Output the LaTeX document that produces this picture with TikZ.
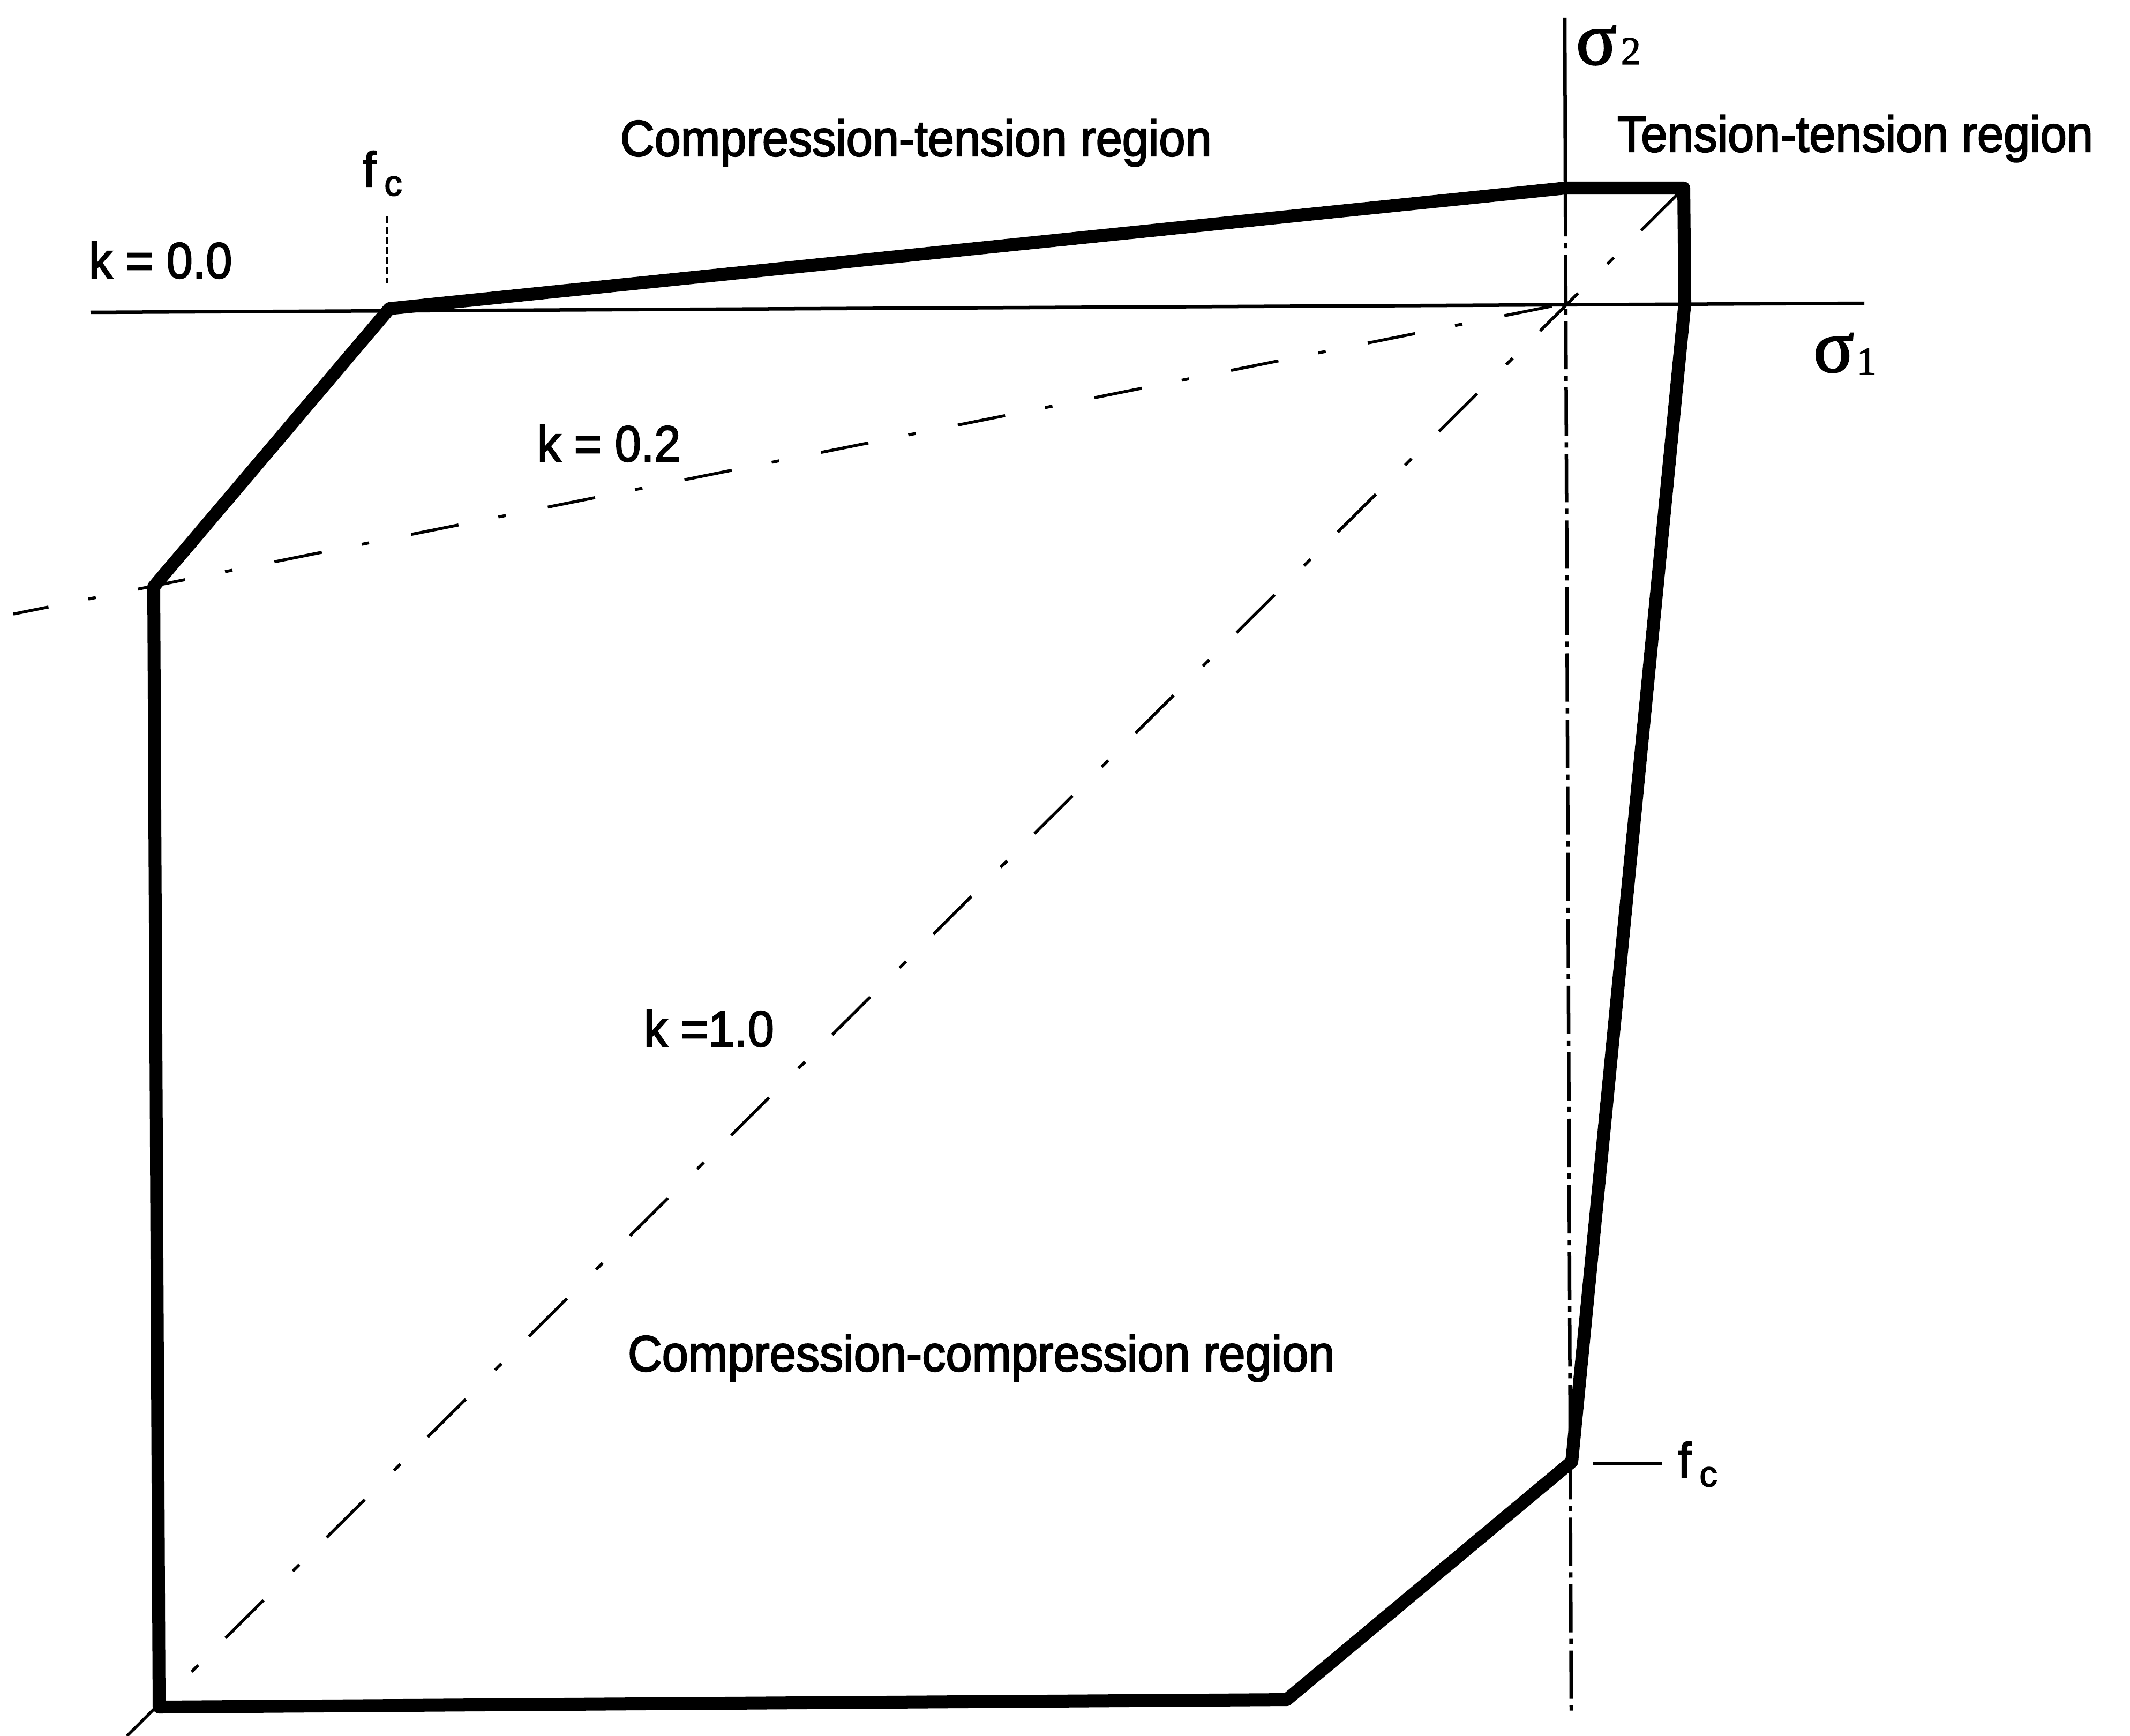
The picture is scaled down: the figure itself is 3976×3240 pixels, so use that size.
\documentclass[tikz,border=0pt]{standalone}
\usepackage{fontspec}
\usepackage{graphicx}
\newfontfamily\lblfont{Liberation Sans}[FakeBold=2.5]
\newfontfamily\grkfont{Liberation Serif}[FakeBold=2]
\newcommand{\lbltext}[1]{\scalebox{1}[1.07]{\lblfont\fontsize{25.1}{28}\selectfont #1}}
\newcommand{\fcsym}{{\lblfont\fontsize{26}{28}\selectfont f}\hspace{0.15cm}\raisebox{-0.17cm}{\lblfont\fontsize{19}{22}\selectfont c}}
\begin{document}
\begin{tikzpicture}[x=0.01cm,y=-0.01cm,
  outline/.style={line width=0.24cm, line join=round},
  axisline/.style={line width=0.065cm},
  axisdd/.style={line width=0.065cm, dash pattern=on 0.9cm off 0.12cm on 0.1cm off 0.12cm},
  kline/.style={line width=0.055cm, dash pattern=on 0.9cm off 0.8cm on 0.14cm off 0.76cm},
  kdiag/.style={line width=0.055cm, dash pattern=on 1.0cm off 0.72cm on 0.17cm off 0.77cm},
  fctick/.style={line width=0.04cm, dash pattern=on 0.13cm off 0.06cm},
  lbl/.style={anchor=base west, inner sep=0pt, outer sep=0pt}]
\useasboundingbox (0,0) rectangle (3976,3240);
% key points
\coordinate (A) at (727,576);
\coordinate (B) at (2922,351);
\coordinate (C) at (3143,351);
\coordinate (D) at (3145,566);
\coordinate (E) at (2934,2728);
\coordinate (F) at (2402,3172);
\coordinate (G) at (297,3186);
\coordinate (H) at (287,1095);
\coordinate (O) at (2924,566);
\coordinate (ax1L) at (169,583);
\coordinate (ax1R) at (3480,566);
\coordinate (ax2T) at (2921,33);
\coordinate (ax2B) at (2933,3196);
\coordinate (k2L) at (25,1146);
\coordinate (k1L) at (237,3240);
\coordinate (fcT) at (723,404);
\coordinate (fcB) at (723,528);
\coordinate (tickL) at (2973,2731);
\coordinate (tickR) at (3103,2731);
% axes
\draw[axisline] (ax1L) -- (ax1R);
\draw[axisline] (ax2T) -- (B);
\draw[axisdd] (B) -- (ax2B);
% k lines
\draw[kline, dash phase=2.32cm] (O) -- (k2L);
\draw[kdiag, dash phase=2.54cm] (C) -- (k1L);
% fc marks
\draw[fctick] (fcT) -- (fcB);
\draw[axisline] (tickL) -- (tickR);
% failure envelope
\draw[outline] (A) -- (B) -- (C) -- (D) -- (E) -- (F) -- (G) -- (H) -- cycle;
% labels
\node[lbl] (ctr) at (1158,291) {\lbltext{Compression-tension region}};
\node[lbl] (ttr) at (3019,283) {\lbltext{Tension-tension region}};
\node[lbl] (k00) at (166,519) {\lbltext{k = 0.0}};
\node[lbl] (k02) at (1003,861) {\lbltext{k = 0.2}};
\node[lbl] (k10) at (1202,1953) {\lbltext{k =1.0}};
\node[lbl] (ccr) at (1172,2559) {\lbltext{Compression-compression region}};
\node[lbl] (fc1) at (677,348) {\fcsym};
\node[lbl] (fc2) at (3132,2757) {\fcsym};
\node[lbl] (s2) at (2942,120) {\grkfont\fontsize{40}{44}\selectfont σ\hspace{0.08cm}{\fontsize{21}{24}\selectfont 2}};
\node[lbl] (s1) at (3385,694) {\grkfont\fontsize{40}{44}\selectfont σ\hspace{0.05cm}\raisebox{-0.05cm}{\fontsize{21}{24}\selectfont 1}};
\end{tikzpicture}
\end{document}
